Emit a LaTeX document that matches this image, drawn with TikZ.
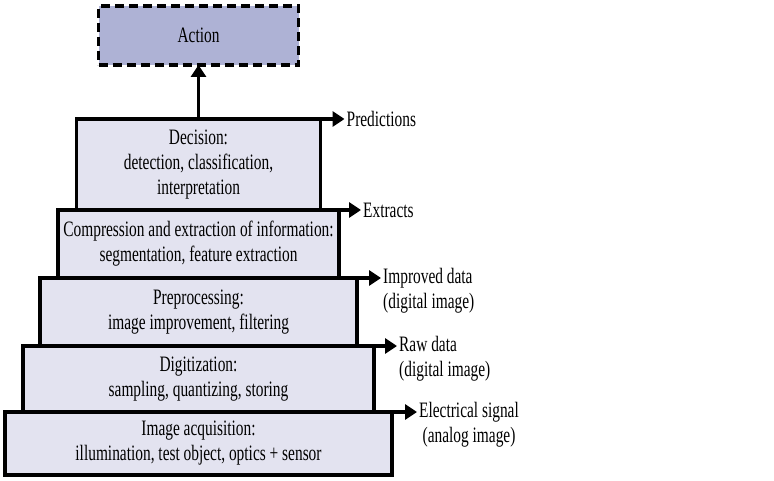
\documentclass[tikz,border=0pt]{standalone}
\usepackage{fontspec}
\setmainfont{Liberation Serif}[FakeStretch=0.7]
\usetikzlibrary{positioning,arrows.meta}
\definecolor{layerfill}{RGB}{227,227,240}
\definecolor{actionfill}{RGB}{174,178,213}

\begin{document}
\begin{tikzpicture}[x=1pt, y=1pt, >={Triangle[length=12pt,width=15pt]},
  layer/.style={rectangle, draw, line width=3.2pt, fill=layerfill, align=center, outer sep=0pt, font=\fontsize{22}{25}\selectfont},
  outlbl/.style={align=left, inner sep=2pt, font=\fontsize{22}{25}\selectfont},
  outarrow/.style={->, line width=3.2pt}]
\useasboundingbox (0,0) rectangle (774,-481);
% the layers, bottom to top
\node[layer, minimum width=387pt, minimum height=63pt] (acq) at (198.5,-443.5) {Image acquisition:\\ illumination, test object, optics + sensor};
\node[layer, minimum width=351pt, minimum height=66pt, above=0pt of acq] (dig) {Digitization:\\ sampling, quantizing, storing};
\node[layer, minimum width=317pt, minimum height=68pt, above=0pt of dig] (pre) {Preprocessing:\\ image improvement, filtering};
\node[layer, minimum width=281pt, minimum height=68pt, above=0pt of pre] (comp) {Compression and extraction of information:\\ segmentation, feature extraction};
\node[layer, minimum width=244pt, minimum height=91pt, above=0pt of comp] (dec) {Decision:\\ detection, classification,\\ interpretation};
\node[layer, dash pattern=on 9pt off 5pt, fill=actionfill, minimum width=200pt, minimum height=59pt, above=54pt of dec] (action) {Action};

% outputs of each layer
\node[outlbl, right=24pt of dec.north east] (pred) {Predictions};
\node[outlbl, right=22pt of comp.north east] (extr) {Extracts};
\node[outlbl, right=24pt of pre.north east, yshift=-13pt] (impr) {Improved data\\ (digital image)};
\node[outlbl, right=23pt of dig.north east, yshift=-13pt] (raw) {Raw data\\ (digital image)};
\node[outlbl, align=center, right=25pt of acq.north east, yshift=-13pt] (elec) {Electrical signal\\ (analog image)};

\draw[outarrow] (dec.north) -- (action.south);
\draw[outarrow] (dec.north east) -- (pred.west);
\draw[outarrow] (comp.north east) -- (extr.west);
\draw[outarrow] (pre.north east) -- (pre.north east -| impr.west);
\draw[outarrow] (dig.north east) -- (dig.north east -| raw.west);
\draw[outarrow] (acq.north east) -- (acq.north east -| elec.west);
\end{tikzpicture}
\end{document}
